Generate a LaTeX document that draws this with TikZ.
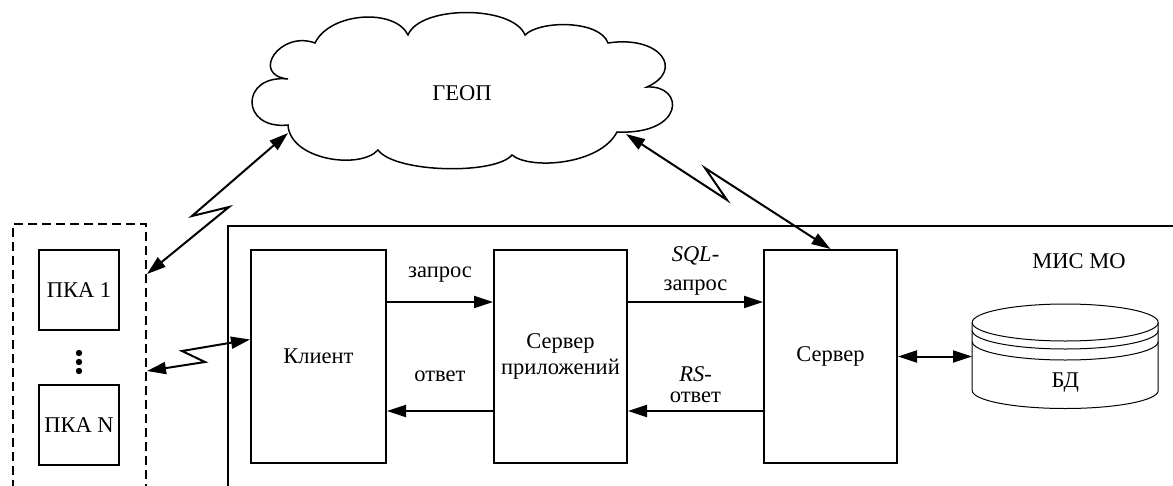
\documentclass[tikz,border=0pt]{standalone}
\usepackage{fontspec}
\setmainfont{Liberation Serif}
\usetikzlibrary{arrows.meta, positioning}

\begin{document}
\begin{tikzpicture}[
  x=1pt, y=1pt,
  font=\fontsize{22.5}{26}\selectfont,
  blk/.style={draw, line width=2pt, minimum width=133pt, minimum height=213pt, align=center, inner sep=2pt},
  pka/.style={draw, line width=2pt, minimum width=80pt, minimum height=80pt, inner sep=1pt},
  grp/.style={draw, line width=2pt, dash pattern=on 9pt off 5pt, anchor=north west, inner sep=0pt},
  frm/.style={draw, line width=2pt, anchor=north west, inner sep=0pt},
  lbl/.style={inner sep=3pt, align=center},
  fl/.style={-{Triangle[length=19pt, width=12pt]}, line width=2pt},
  dbl/.style={{Triangle[length=19pt, width=12pt]}-{Triangle[length=19pt, width=12pt]}, line width=2pt},
  thinline/.style={line width=1pt}
]
\clip (0,0) rectangle (1173,-485);

\node[grp, minimum width=133pt, minimum height=290pt] (pkagrp) at (12,-223) {};
\node[frm, minimum width=1000pt, minimum height=290pt] (mis) at (227,-225) {};
\node (mislbl) at (1079,-261) {МИС МО};

\node[pka] (pka1) at (79,-290) {ПКА 1};
\node[pka, below=53pt of pka1] (pkan) {ПКА N};
\foreach \y in {-353,-362,-371} \fill (79,\y) circle (3.2pt);

\node[blk, minimum width=135pt] (client) at (318.5,-356.5) {Клиент};
\node[blk, right=106pt of client] (appsrv) {Сервер\\приложений};
\node[blk, right=135pt of appsrv] (srv) {Сервер};
\node[right=74pt of srv, minimum width=186pt, minimum height=105pt, inner sep=0pt] (db) {};

\begin{scope}[shift={(db.center)}, thinline]
\draw (-93,34) -- (-93,-34) arc[start angle=180, end angle=360, x radius=93, y radius=18] -- (93,34);
\draw (0,34) ellipse [x radius=93, y radius=18.5];
\foreach \s in {8,19} \draw (-93,34-\s) arc[start angle=180, end angle=360, x radius=93, y radius=18.5];
\node (dbname) at (0,-26.5) {БД};
\end{scope}

\draw[line width=1.5pt] (288,-125) .. controls (240,-130) and (240,-74) .. (288,-79)
  .. controls (250,-75) and (280,-30) .. (315,-43)
  .. controls (330,-12) and (395,-8) .. (408,-35)
  .. controls (420,-5) and (513,-5) .. (525,-35)
  .. controls (540,-20) and (600,-20) .. (608,-43)
  .. controls (660,-35) and (685,-70) .. (647,-87)
  .. controls (685,-85) and (685,-135) .. (617,-132)
  .. controls (600,-165) and (530,-170) .. (512,-155)
  .. controls (495,-175) and (395,-173) .. (378,-150)
  .. controls (360,-170) and (290,-160) .. cycle;
\node (geop) at (462,-93) {ГЕОП};
\coordinate (geopL) at (288,-133);
\coordinate (geopR) at (626,-134);

\draw[fl] ([yshift=-53pt]client.north east) -- ([yshift=-53pt]appsrv.north west) node[lbl, midway, above=16pt] (lzap) {запрос};
\draw[fl] ([yshift=53pt]appsrv.south west) -- ([yshift=53pt]client.south east) node[lbl, midway, above=25pt] (lotv) {ответ};
\draw[fl] ([yshift=-53pt]appsrv.north east) -- ([yshift=-53pt]srv.north west) node[lbl, midway, above=3pt] (lsql) {\textit{SQL}-\\[3pt]запрос};
\draw[fl] ([yshift=53pt]srv.south west) -- ([yshift=53pt]appsrv.south east) node[lbl, midway, above=4pt] (lrs) {\textit{RS}-\\[-5pt]ответ};
\draw[dbl] (srv) -- (db);

\draw[dbl] ([yshift=-51pt]pkagrp.north east) -- ++(82,67) -- ++(-37,-9) -- (geopL);
\draw[dbl] (geopR) -- ++(101,-66) -- ++(-22,32) -- (srv.north);
\draw[dbl] ([yshift=-148pt]pkagrp.north east) -- ++(58,9) -- ++(-23,11) -- ([yshift=17pt]client.west);
\end{tikzpicture}
\end{document}
